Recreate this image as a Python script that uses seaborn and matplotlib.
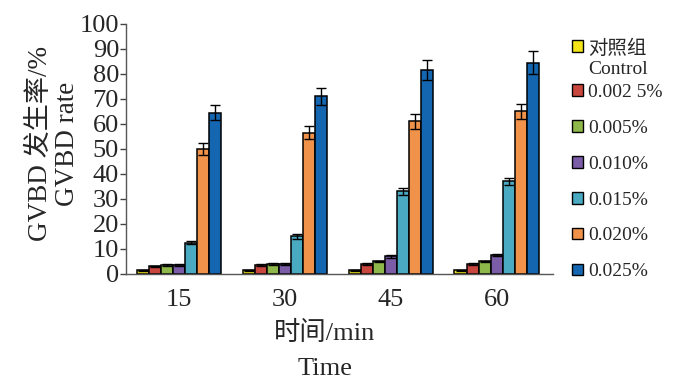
import pandas as pd
import matplotlib
matplotlib.use("Agg")
import matplotlib.pyplot as plt
from matplotlib.patches import Rectangle
from matplotlib.legend_handler import HandlerPatch
import seaborn as sns

# données
temps = ["15", "30", "45", "60"]
groupes = ["对照组\nControl", "0.002 5%", "0.005%", "0.010%", "0.015%", "0.020%", "0.025%"]
valeurs = {
    "对照组\nControl": [1.5, 1.5, 1.5, 1.5],
    "0.002 5%": [3.0, 3.5, 4.0, 4.0],
    "0.005%": [3.5, 4.0, 5.0, 5.0],
    "0.010%": [3.5, 4.0, 7.0, 7.5],
    "0.015%": [12.5, 15.0, 33.0, 37.0],
    "0.020%": [50.0, 56.5, 61.0, 65.0],
    "0.025%": [64.5, 71.0, 81.5, 84.5],
}
erreurs = {
    "对照组\nControl": [0.2, 0.2, 0.2, 0.2],
    "0.002 5%": [0.3, 0.3, 0.3, 0.3],
    "0.005%": [0.3, 0.3, 0.3, 0.3],
    "0.010%": [0.3, 0.3, 0.5, 0.5],
    "0.015%": [0.7, 1.0, 1.5, 1.5],
    "0.020%": [2.5, 2.5, 3.0, 3.0],
    "0.025%": [3.0, 3.5, 4.0, 4.5],
}
couleurs = ["#f3e41a", "#c9463f", "#8fb84b", "#7b5ca6", "#4aaac2", "#f0924a", "#1566b1"]

lignes = []
for g in groupes:
    for i, t in enumerate(temps):
        lignes.append({"Temps": t, "Groupe": g, "Taux": valeurs[g][i]})
df = pd.DataFrame(lignes)

sns.set_style("ticks")
plt.rcParams["font.family"] = ["Liberation Serif", "Noto Sans CJK SC"]

fig = plt.figure(figsize=(7, 3.8), dpi=100)
ax = fig.add_axes([0.18, 0.279, 0.61, 0.658])

sns.barplot(data=df, x="Temps", y="Taux", hue="Groupe", order=temps, hue_order=groupes,
            palette=couleurs, saturation=1, errorbar=None, width=0.8,
            edgecolor="black", linewidth=1.1, ax=ax)

# barres d'erreur au centre de chaque barre
for cont, g in zip(ax.containers, groupes):
    xs = [p.get_x() + p.get_width() / 2 for p in cont.patches]
    ax.errorbar(xs, valeurs[g], yerr=erreurs[g], fmt="none", ecolor="black",
                elinewidth=1.0, capsize=3.5, capthick=1.0)

ax.set_ylim(0, 100)
ax.set_xlim(-0.5, 3.53)
ax.set_yticks(range(0, 101, 10))
ax.tick_params(axis="y", labelsize=19, length=4, width=1, color="#444444", pad=1)
ax.tick_params(axis="x", labelsize=19, length=0, pad=11)
sns.despine(ax=ax)
for s in ["left", "bottom"]:
    ax.spines[s].set_color("#555555")
    ax.spines[s].set_linewidth(1.0)

ax.set_ylabel("GVBD 发生率/%\nGVBD rate", fontsize=19.5, linespacing=1.08)
ax.yaxis.set_label_coords(-0.108, 0.52)
ax.set_xlabel("时间/min\nTime", fontsize=19, linespacing=1.75)
ax.xaxis.set_label_coords(0.466, -0.188)

handles, labels = ax.get_legend_handles_labels()
ax.get_legend().remove()


def carre_haut(legend, orig_handle, xdescent, ydescent, width, height, fontsize):
    # marqueur aligné sur la première ligne du libellé
    return Rectangle((-xdescent, -ydescent + 0.62 * fontsize), width, height)


opts = dict(loc="upper left", frameon=False, fontsize=14, handlelength=0.55,
            handleheight=0.55, handletextpad=0.25, borderpad=0, borderaxespad=0)
leg1 = ax.legend(handles[:1], labels[:1], bbox_to_anchor=(1.045, 0.937),
                 handler_map={handles[0]: HandlerPatch(patch_func=carre_haut)}, **opts)
ax.add_artist(leg1)
leg2 = ax.legend(handles[1:], labels[1:], bbox_to_anchor=(1.045, 0.76),
                 labelspacing=0.97, **opts)
for leg in (leg1, leg2):
    for h in leg.legend_handles:
        h.set_edgecolor("black")
        h.set_linewidth(1.0)

plt.savefig("out.png", dpi=100)
